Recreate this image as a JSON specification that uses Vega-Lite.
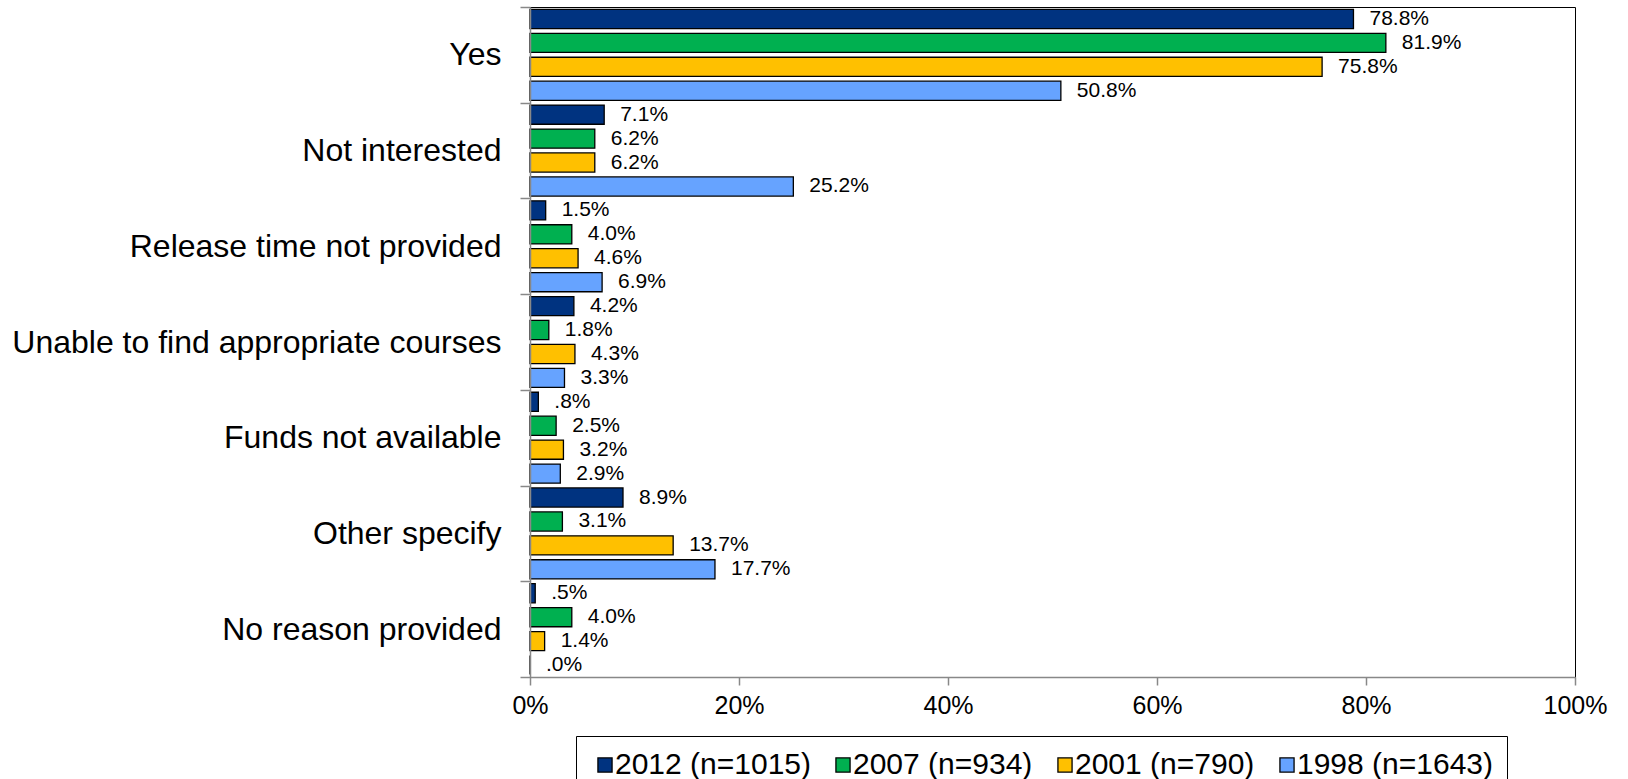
{
  "$schema": "https://vega.github.io/schema/vega-lite/v6.json",
  "width": 1045,
  "height": 670,
  "autosize": {"type": "none"},
  "padding": {"left": 530, "top": 7, "right": 53, "bottom": 102},
  "background": "white",
  "config": {"view": {"stroke": "black", "strokeWidth": 1}, "font": "Liberation Sans"},
  "data": {"values": [
    {"reason": "Yes", "year": "2012 (n=1015)", "value": 0.788, "label": "78.8%"},
    {"reason": "Yes", "year": "2007 (n=934)", "value": 0.819, "label": "81.9%"},
    {"reason": "Yes", "year": "2001 (n=790)", "value": 0.758, "label": "75.8%"},
    {"reason": "Yes", "year": "1998 (n=1643)", "value": 0.508, "label": "50.8%"},
    {"reason": "Not interested", "year": "2012 (n=1015)", "value": 0.071, "label": "7.1%"},
    {"reason": "Not interested", "year": "2007 (n=934)", "value": 0.062, "label": "6.2%"},
    {"reason": "Not interested", "year": "2001 (n=790)", "value": 0.062, "label": "6.2%"},
    {"reason": "Not interested", "year": "1998 (n=1643)", "value": 0.252, "label": "25.2%"},
    {"reason": "Release time not provided", "year": "2012 (n=1015)", "value": 0.015, "label": "1.5%"},
    {"reason": "Release time not provided", "year": "2007 (n=934)", "value": 0.040, "label": "4.0%"},
    {"reason": "Release time not provided", "year": "2001 (n=790)", "value": 0.046, "label": "4.6%"},
    {"reason": "Release time not provided", "year": "1998 (n=1643)", "value": 0.069, "label": "6.9%"},
    {"reason": "Unable to find appropriate courses", "year": "2012 (n=1015)", "value": 0.042, "label": "4.2%"},
    {"reason": "Unable to find appropriate courses", "year": "2007 (n=934)", "value": 0.018, "label": "1.8%"},
    {"reason": "Unable to find appropriate courses", "year": "2001 (n=790)", "value": 0.043, "label": "4.3%"},
    {"reason": "Unable to find appropriate courses", "year": "1998 (n=1643)", "value": 0.033, "label": "3.3%"},
    {"reason": "Funds not available", "year": "2012 (n=1015)", "value": 0.008, "label": ".8%"},
    {"reason": "Funds not available", "year": "2007 (n=934)", "value": 0.025, "label": "2.5%"},
    {"reason": "Funds not available", "year": "2001 (n=790)", "value": 0.032, "label": "3.2%"},
    {"reason": "Funds not available", "year": "1998 (n=1643)", "value": 0.029, "label": "2.9%"},
    {"reason": "Other specify", "year": "2012 (n=1015)", "value": 0.089, "label": "8.9%"},
    {"reason": "Other specify", "year": "2007 (n=934)", "value": 0.031, "label": "3.1%"},
    {"reason": "Other specify", "year": "2001 (n=790)", "value": 0.137, "label": "13.7%"},
    {"reason": "Other specify", "year": "1998 (n=1643)", "value": 0.177, "label": "17.7%"},
    {"reason": "No reason provided", "year": "2012 (n=1015)", "value": 0.005, "label": ".5%"},
    {"reason": "No reason provided", "year": "2007 (n=934)", "value": 0.040, "label": "4.0%"},
    {"reason": "No reason provided", "year": "2001 (n=790)", "value": 0.014, "label": "1.4%"},
    {"reason": "No reason provided", "year": "1998 (n=1643)", "value": 0.0, "label": ".0%"}
  ]},
  "encoding": {
    "y": {
      "field": "reason", "type": "nominal",
      "sort": ["Yes", "Not interested", "Release time not provided", "Unable to find appropriate courses", "Funds not available", "Other specify", "No reason provided"],
      "scale": {"paddingInner": 0, "paddingOuter": 0},
      "axis": {"title": null, "labelFontSize": 32, "labelColor": "black", "labelPadding": 19, "tickSize": 10, "tickColor": "#888", "domainColor": "#888", "domainWidth": 1.5, "tickWidth": 1.5, "tickBand": "extent", "zindex": 1, "labelLimit": 700}
    },
    "yOffset": {
      "field": "year", "type": "nominal",
      "sort": ["2012 (n=1015)", "2007 (n=934)", "2001 (n=790)", "1998 (n=1643)"],
      "scale": {"paddingInner": 0.2, "paddingOuter": 0.1}
    },
    "x": {
      "field": "value", "type": "quantitative",
      "scale": {"domain": [0, 1]},
      "axis": {"title": null, "format": "%", "values": [0, 0.2, 0.4, 0.6, 0.8, 1], "grid": false, "labelFontSize": 25, "labelColor": "black", "tickSize": 8, "tickColor": "#888", "domainColor": "#888", "domainWidth": 1.5, "tickWidth": 1.5, "labelPadding": 8, "labelFlush": false, "zindex": 1}
    }
  },
  "layer": [
    {
      "mark": {"type": "bar", "stroke": "black", "strokeWidth": 1.3},
      "encoding": {
        "color": {
          "field": "year", "type": "nominal",
          "scale": {"domain": ["2012 (n=1015)", "2007 (n=934)", "2001 (n=790)", "1998 (n=1643)"], "range": ["#003380", "#00B050", "#FFC000", "#66A3FF"]},
          "legend": {"title": null, "orient": "none", "legendX": 46, "legendY": 729, "direction": "horizontal", "columns": 4, "symbolType": "square", "symbolSize": 200, "symbolStrokeColor": "black", "symbolStrokeWidth": 1.3, "symbolOpacity": 1, "labelFontSize": 30, "labelColor": "black", "labelOffset": -5, "columnPadding": 17, "padding": 14, "strokeColor": "black", "fillColor": "white", "labelLimit": 400}
        }
      }
    },
    {
      "mark": {"type": "text", "align": "left", "baseline": "middle", "dx": 16, "fontSize": 21, "color": "black"},
      "encoding": {"text": {"field": "label"}}
    }
  ]
}
